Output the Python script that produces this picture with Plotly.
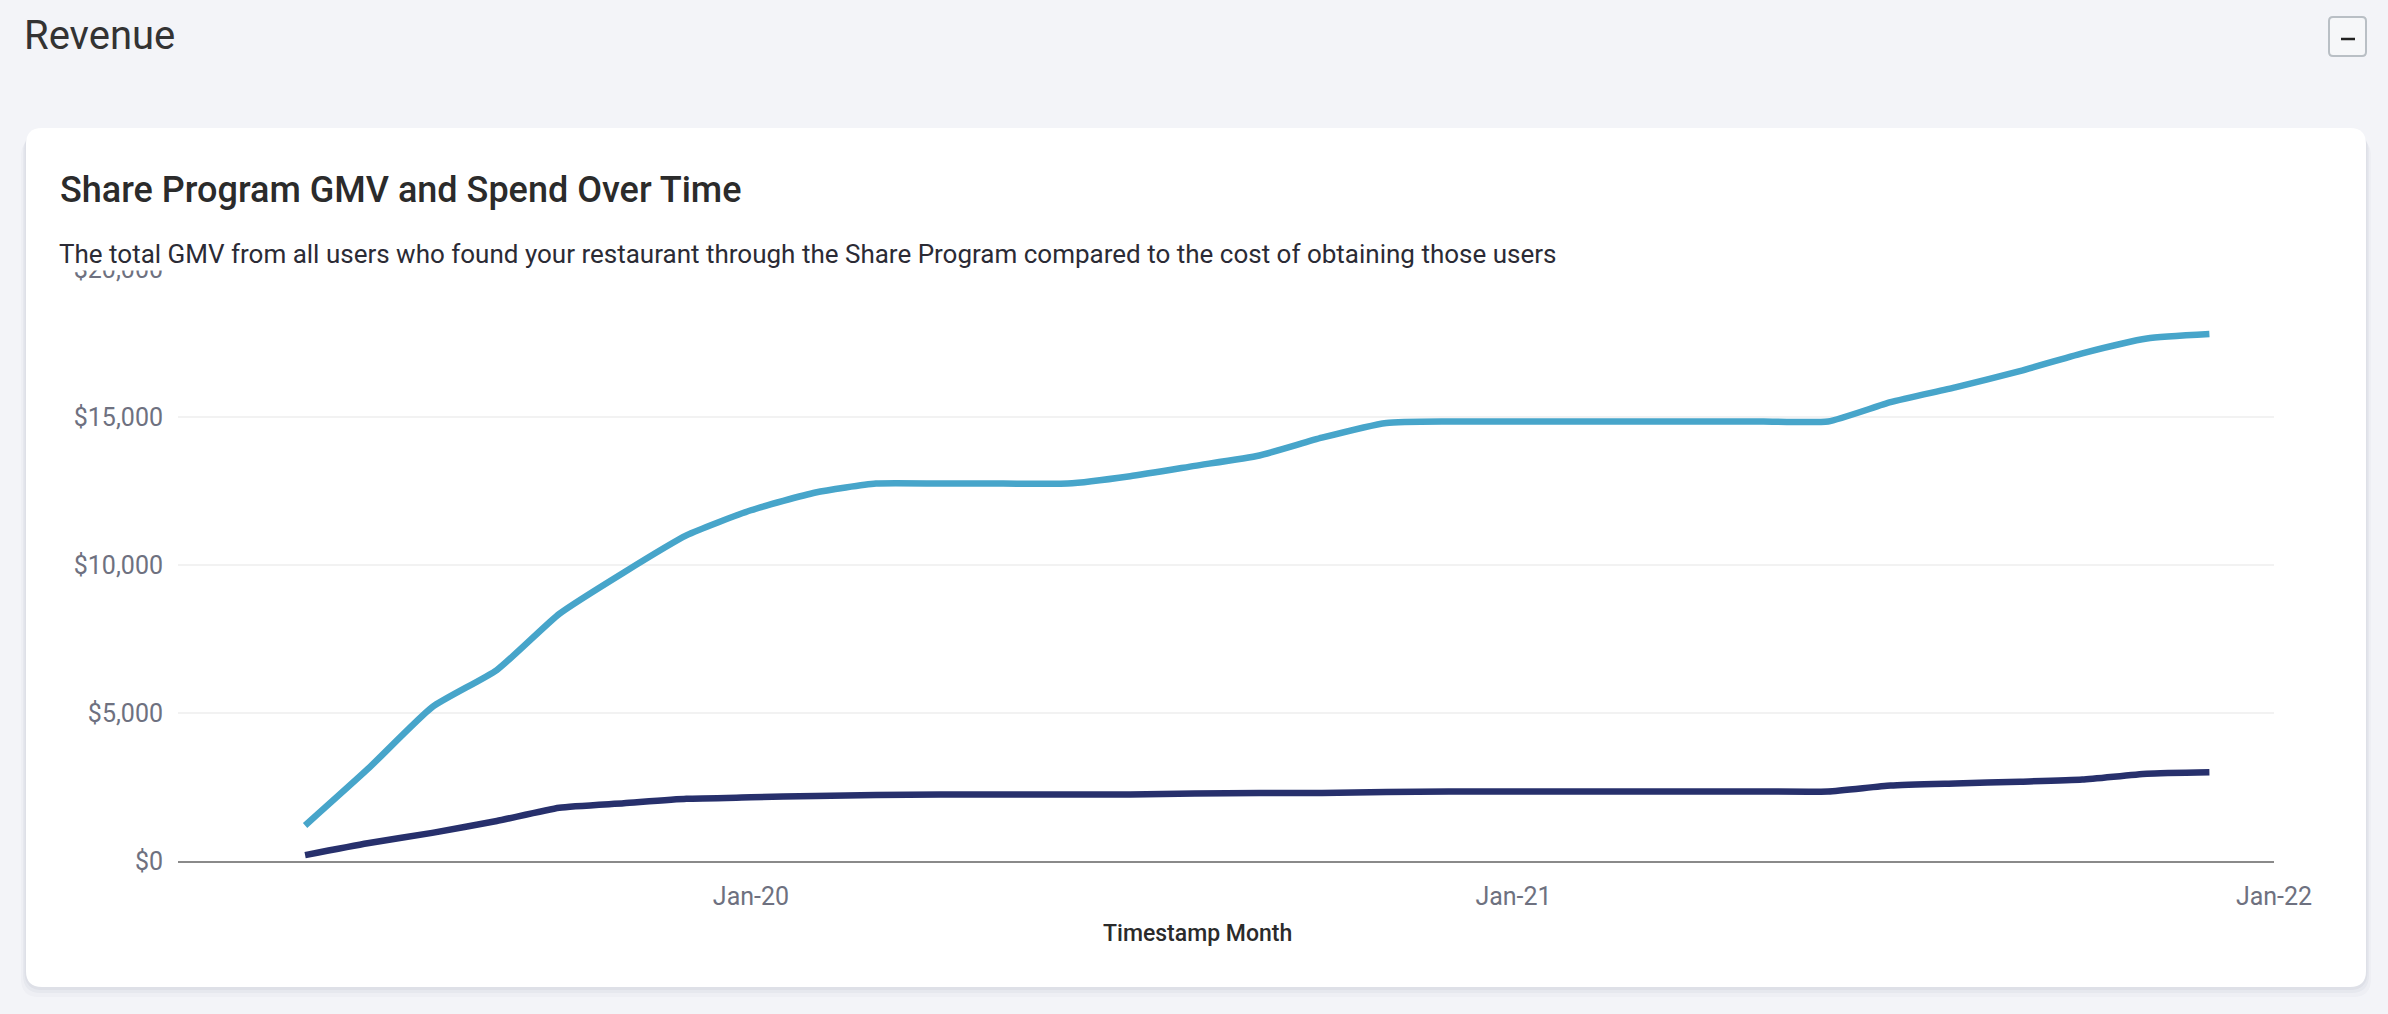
import plotly.graph_objects as go

months = ["2019-06-01", "2019-07-01", "2019-08-01", "2019-09-01", "2019-10-01", "2019-11-01", "2019-12-01",
          "2020-01-01", "2020-02-01", "2020-03-01", "2020-04-01", "2020-05-01", "2020-06-01",
          "2020-07-01", "2020-08-01", "2020-09-01", "2020-10-01", "2020-11-01", "2020-12-01",
          "2021-01-01", "2021-02-01", "2021-03-01", "2021-04-01", "2021-05-01", "2021-06-01",
          "2021-07-01", "2021-08-01", "2021-09-01", "2021-10-01", "2021-11-01", "2021-12-01"]
gmv = [1200, 3100, 5200, 6450, 8350, 9750, 11000,
       11850, 12450, 12750, 12750, 12750, 12750, 13000, 13350, 13700, 14300, 14800, 14850,
       14850, 14850, 14850, 14850, 14850, 14850, 15500, 16000, 16550, 17150, 17650, 17800]
spend = [200, 600, 950, 1350, 1800, 1950, 2100,
         2150, 2200, 2230, 2250, 2250, 2250, 2250, 2280, 2300, 2300, 2330, 2350,
         2350, 2350, 2350, 2350, 2350, 2350, 2550, 2620, 2680, 2750, 2950, 3000]
y_ticks = [0, 5000, 10000, 15000, 20000]
y_tick_labels = ["$0", "$5,000", "$10,000", "$15,000", "$20,000"]

W_FIG, H_FIG = 2388, 1014
L, R, T, B = 178, 2274, 269, 861
PW, PH = R - L, B - T


def px(x):
    return (x - L) / PW


def py(y):
    return (B - y) / PH


def rounded_rect(x0, y0, x1, y1, r):
    rx = r / PW
    ry = r / PH
    a, b, c, d = px(x0), py(y0), px(x1), py(y1)  # b top, d bottom (b > d)
    return (f"M {a+rx},{b} L {c-rx},{b} Q {c},{b} {c},{b-ry} "
            f"L {c},{d+ry} Q {c},{d} {c-rx},{d} L {a+rx},{d} Q {a},{d} {a},{d+ry} "
            f"L {a},{b-ry} Q {a},{b} {a+rx},{b} Z")


fig = go.Figure()
fig.add_trace(go.Scatter(x=months, y=gmv, mode="lines", name="GMV",
                         line=dict(color="#47A5CA", width=6.5, shape="spline", smoothing=0.5)))
fig.add_trace(go.Scatter(x=months, y=spend, mode="lines", name="Spend",
                         line=dict(color="#27306C", width=6.5, shape="spline", smoothing=0.5)))

shapes = []
# card shadow
for off, op in [(10, 0.025), (6, 0.035), (3, 0.045)]:
    shapes.append(dict(type="path", xref="paper", yref="paper", layer="below",
                       path=rounded_rect(26 - off / 2, 128 + off, 2366 + off / 2, 987 + off, 18),
                       fillcolor=f"rgba(40,50,90,{op})", line=dict(width=0)))
# card
shapes.append(dict(type="path", xref="paper", yref="paper", layer="below",
                   path=rounded_rect(26, 128, 2366, 987, 16),
                   fillcolor="#FFFFFF", line=dict(width=0)))
# collapse button
shapes.append(dict(type="path", xref="paper", yref="paper", layer="above",
                   path=rounded_rect(2329, 17, 2366, 56, 4),
                   fillcolor="#F6F7F9", line=dict(color="#B9BFC5", width=2)))
shapes.append(dict(type="line", xref="paper", yref="paper", layer="above",
                   x0=px(2341), x1=px(2355), y0=py(39), y1=py(39),
                   line=dict(color="#222222", width=2.5)))

annotations = [
    dict(text="Revenue", xref="paper", yref="paper", x=px(22), y=py(36),
         xanchor="left", yanchor="middle", showarrow=False,
         font=dict(family="Roboto", size=40, color="#333333")),
    dict(text="Share Program GMV and Spend Over Time", xref="paper", yref="paper",
         x=px(58), y=py(190), xanchor="left", yanchor="middle", showarrow=False,
         font=dict(family="Roboto", size=36, color="#2B2B2B", weight=500)),
    dict(text="The total GMV from all users who found your restaurant through the Share Program "
              "compared to the cost of obtaining those users",
         xref="paper", yref="paper", x=px(57), y=py(254), xanchor="left", yanchor="middle",
         showarrow=False, bgcolor="#FFFFFF", borderpad=1,
         font=dict(family="Roboto", size=26, color="#2B2B35")),
    dict(text="Timestamp Month", xref="paper", yref="paper", x=px(1197), y=py(933),
         xanchor="center", yanchor="middle", showarrow=False,
         font=dict(family="Roboto", size=23, color="#2B2B2B", weight=500)),
]

fig.update_layout(
    width=W_FIG, height=H_FIG,
    margin=dict(l=L, r=W_FIG - R, t=T, b=H_FIG - B, pad=0),
    paper_bgcolor="#F3F4F8", plot_bgcolor="rgba(0,0,0,0)",
    showlegend=False,
    shapes=shapes, annotations=annotations,
    font=dict(family="Roboto"),
)
fig.update_xaxes(type="date", range=["2019-04-01", "2022-01-01"],
                 tick0="2020-01-01", dtick="M12", tickformat="%b-%y",
                 showgrid=False, zeroline=False, showline=True, linecolor="#8A8A8A", linewidth=2,
                 ticks="", ticklabelstandoff=12,
                 tickfont=dict(family="Roboto", size=25, color="#6E7180"))
fig.update_yaxes(range=[0, 20000], tickmode="array", tickvals=y_ticks, ticktext=y_tick_labels,
                 showgrid=True, gridcolor="#F2F2F2", gridwidth=2, zeroline=False, showline=False,
                 ticks="", ticklabelstandoff=14,
                 tickfont=dict(family="Roboto", size=25, color="#6E7180"))

fig.write_html("out.html")
